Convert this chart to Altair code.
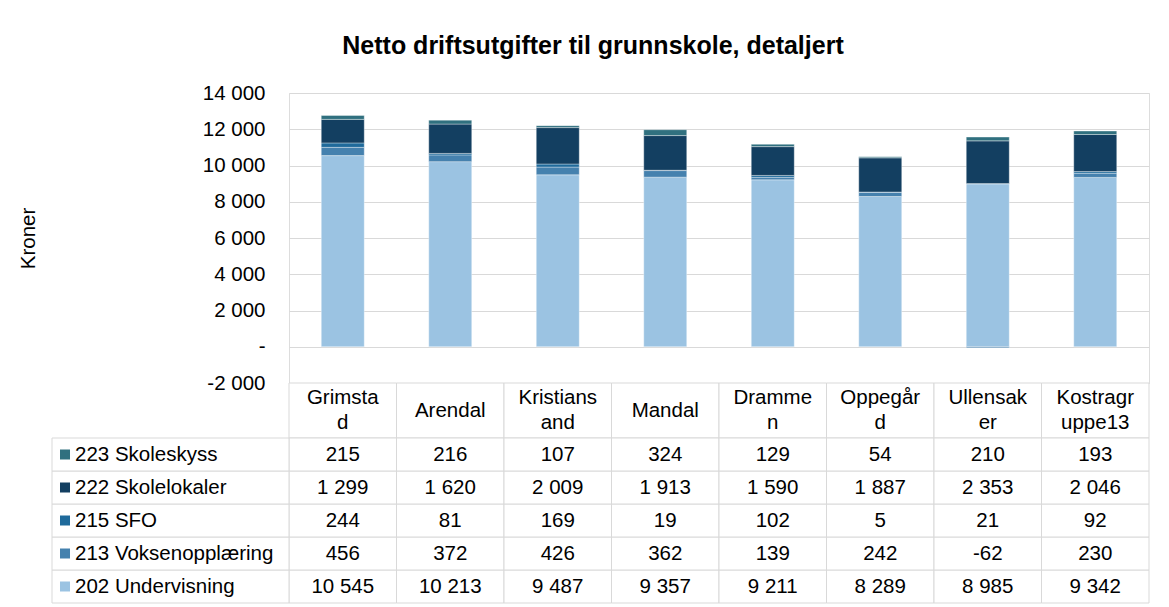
import altair as alt
import pandas as pd

# ---- data ----
categories = ["Grimstad", "Arendal", "Kristiansand", "Mandal", "Drammen",
              "Oppegård", "Ullensaker", "Kostragruppe13"]
header_lines = [["Grimsta", "d"], ["Arendal"], ["Kristians", "and"], ["Mandal"],
                ["Dramme", "n"], ["Oppegår", "d"], ["Ullensak", "er"], ["Kostragr", "uppe13"]]

series_names = ["202 Undervisning", "213 Voksenopplæring", "215 SFO",
                "222 Skolelokaler", "223 Skoleskyss"]
undervisning_202 = [10545, 10213, 9487, 9357, 9211, 8289, 8985, 9342]
voksenopplaering_213 = [456, 372, 426, 362, 139, 242, -62, 230]
sfo_215 = [244, 81, 169, 19, 102, 5, 21, 92]
skolelokaler_222 = [1299, 1620, 2009, 1913, 1590, 1887, 2353, 2046]
skoleskyss_223 = [215, 216, 107, 324, 129, 54, 210, 193]

series_colors = ["#9BC3E2", "#4581AE", "#1F6A9B", "#133F61", "#30707F"]
y_ticks = [-2000, 0, 2000, 4000, 6000, 8000, 10000, 12000, 14000]

title_text = "Netto driftsutgifter til grunnskole, detaljert"
y_title = "Kroner"

# ---- build tables ----
all_values = [undervisning_202, voksenopplaering_213, sfo_215,
              skolelokaler_222, skoleskyss_223]
rows = []
for si, (name, vals) in enumerate(zip(series_names, all_values)):
    for cat, v in zip(categories, vals):
        rows.append({"kategori": cat, "serie": name, "verdi": v, "rekke": si})
df = pd.DataFrame(rows)
table_rows = list(reversed(series_names))  # top to bottom in the data table
rows_df = pd.DataFrame({"serie": series_names})

header_df = pd.DataFrame({
    "kategori": categories,
    "linje1": [l[0] for l in header_lines],
    "linje2": [l[1] if len(l) > 1 else "" for l in header_lines],
    "antall": [len(l) for l in header_lines],
    "rad": ["hode"] * len(categories),
})

FONT = "Liberation Sans"
GRID = "#D9D9D9"
FS = 20.5

x_enc = alt.X(
    "kategori:N",
    sort=categories,
    scale=alt.Scale(domain=categories, paddingInner=0, paddingOuter=0),
    axis=None,
)

color_enc = alt.Color("serie:N", scale=alt.Scale(domain=series_names, range=series_colors),
                      legend=None)

bars = alt.Chart(df).mark_bar(
    width=alt.RelativeBandSize(0.4), stroke="white", strokeWidth=0.6, strokeOpacity=0.6
).encode(
    x=x_enc,
    y=alt.Y(
        "verdi:Q", stack="zero",
        scale=alt.Scale(domain=[-2000, 14000], nice=False, zero=False),
        axis=alt.Axis(
            values=y_ticks, title=y_title, titleFontSize=FS, titleFontWeight="normal",
            titleColor="black", titlePadding=164, titleFont=FONT,
            labelFontSize=FS, labelColor="black", labelPadding=24, labelFont=FONT,
            labelExpr="datum.value == 0 ? '-\u00a0\u00a0\u00a0' : "
                      "replace(replace(format(datum.value, ','), ',', ' '), '\u2212', '-')",
            ticks=False, tickSize=0, domain=False,
            grid=True, gridColor=GRID, gridWidth=1,
        ),
    ),
    color=color_enc,
    order=alt.Order("rekke:Q"),
)


def ty():
    return alt.Y("serie:N", scale=alt.Scale(domain=table_rows, range=[345, 510],
                                            paddingInner=0, paddingOuter=0),
                 axis=None)


def th():
    return alt.Y("rad:N", scale=alt.Scale(domain=["hode"], range=[290, 345],
                                          paddingInner=0, paddingOuter=0),
                 axis=None)


x_tab = alt.X("kategori:N", sort=categories, axis=None)

header_cells = alt.Chart(header_df).mark_rect(
    fill="white", stroke=GRID, strokeWidth=1
).encode(x=x_tab, y=th())

header_single = alt.Chart(header_df).transform_filter("datum.antall == 1").mark_text(
    baseline="middle", fontSize=FS, font=FONT, color="black"
).encode(x=x_tab, y=th(), text="linje1:N")

header_top = alt.Chart(header_df).transform_filter("datum.antall == 2").mark_text(
    baseline="middle", fontSize=FS, font=FONT, color="black", dy=-12.5
).encode(x=x_tab, y=th(), text="linje1:N")

header_bottom = alt.Chart(header_df).transform_filter("datum.antall == 2").mark_text(
    baseline="middle", fontSize=FS, font=FONT, color="black", dy=12.5
).encode(x=x_tab, y=th(), text="linje2:N")

cells = alt.Chart(df).mark_rect(fill="white", stroke=GRID, strokeWidth=1).encode(
    x=x_tab, y=ty()
)

legend_cells = alt.Chart(rows_df).mark_rect(fill="white", stroke=GRID, strokeWidth=1).encode(
    x=alt.value(-237), x2=alt.value(0), y=ty()
)

swatches = alt.Chart(rows_df).mark_square(size=100, opacity=1).encode(
    x=alt.value(-224), y=ty(), color=color_enc
)

legend_labels = alt.Chart(rows_df).mark_text(
    align="left", baseline="middle", fontSize=FS, font=FONT, color="black"
).encode(x=alt.value(-214), y=ty(), text="serie:N")

value_text = alt.Chart(df).transform_calculate(
    etikett="replace(replace(format(datum.verdi, ','), ',', ' '), '\u2212', '-')"
).mark_text(baseline="middle", fontSize=FS, font=FONT, color="black").encode(
    x=x_tab, y=ty(), text="etikett:N"
)

chart = alt.layer(
    bars, header_cells, header_single, header_top, header_bottom,
    cells, legend_cells, swatches, legend_labels, value_text
).resolve_scale(
    y="independent"
).properties(
    width=860, height=290,
    title=alt.TitleParams(title_text, fontSize=25, fontWeight="bold", font=FONT,
                          color="black", anchor="middle", offset=24, dx=-126),
    padding={"left": 10, "top": 26, "right": 5, "bottom": 0},
).configure_view(stroke=None).configure(font=FONT)

chart.save("out.html", embed_options={"renderer": "svg", "actions": False})
